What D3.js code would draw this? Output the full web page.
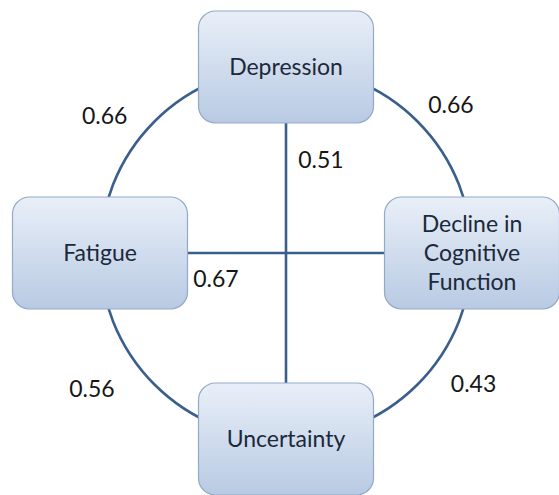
<!DOCTYPE html>
<html>
<head>
<meta charset="utf-8">
<script src="https://cdn.jsdelivr.net/npm/d3@7"></script>
<style>
  body { margin: 0; background: #fff; }
  svg { display: block; }
</style>
</head>
<body>
<div id="chart"></div>
<script>
// nodes placed round the circle, by angle in degrees (0 = right, 90 = down)
const nodeNames = ['Depression', 'Decline in Cognitive Function', 'Uncertainty', 'Fatigue'];
const nodeAngles = [-90, 0, 90, 180];
const nodeLines = [['Depression'], ['Decline in', 'Cognitive', 'Function'], ['Uncertainty'], ['Fatigue']];

// correlations between the nodes
const edgeSource = ['Fatigue', 'Depression', 'Fatigue', 'Decline in Cognitive Function', 'Depression', 'Fatigue'];
const edgeTarget = ['Depression', 'Decline in Cognitive Function', 'Uncertainty', 'Uncertainty', 'Uncertainty', 'Decline in Cognitive Function'];
const edgeValues = [0.66, 0.66, 0.56, 0.43, 0.51, 0.67];

const width = 559, height = 495;
const cx = 286, cy = 253, r = 186;
const boxW = 175, boxH = 112;

// where each label sits (polar around the centre for arcs, offsets for chords)
const labelLayout = {
  'Fatigue|Depression': { a: 217, d: 227 },
  'Depression|Decline in Cognitive Function': { a: 318, d: 222 },
  'Fatigue|Uncertainty': { a: 145, d: 237 },
  'Decline in Cognitive Function|Uncertainty': { a: 35, d: 229 },
  'Depression|Uncertainty': { dx: 35, dy: -93 },
  'Fatigue|Decline in Cognitive Function': { dx: -70, dy: 26 }
};

const rad = d3.scaleLinear().domain([0, 360]).range([0, 2 * Math.PI]);

const nodes = nodeNames.map((name, i) => ({
  name,
  lines: nodeLines[i],
  angle: nodeAngles[i],
  x: cx + r * Math.cos(rad(nodeAngles[i])),
  y: cy + r * Math.sin(rad(nodeAngles[i]))
}));
const byName = new Map(nodes.map(n => [n.name, n]));

const edges = edgeValues.map((v, i) => ({
  source: byName.get(edgeSource[i]),
  target: byName.get(edgeTarget[i]),
  value: v,
  key: edgeSource[i] + '|' + edgeTarget[i]
}));

const svg = d3.select('#chart')
  .append('svg')
  .attr('width', width)
  .attr('height', height);

const defs = svg.append('defs');
const grad = defs.append('linearGradient')
  .attr('id', 'boxFill')
  .attr('x1', 0).attr('y1', 0).attr('x2', 0).attr('y2', 1);
grad.append('stop').attr('offset', '0%').attr('stop-color', '#e9eff8');
grad.append('stop').attr('offset', '100%').attr('stop-color', '#b8cae3');

// adjacent nodes -> arc along the circle, opposite nodes -> straight chord
function edgePath(e) {
  let a0 = e.source.angle, a1 = e.target.angle;
  const diff = ((a1 - a0) % 360 + 360) % 360;
  const p = d3.path();
  if (diff === 180) {
    p.moveTo(e.source.x, e.source.y);
    p.lineTo(e.target.x, e.target.y);
    return p.toString();
  }
  let start = a0, end = a1;
  if (diff > 180) { start = a1; end = a0; }
  if (end < start) end += 360;
  p.moveTo(cx + r * Math.cos(rad(start)), cy + r * Math.sin(rad(start)));
  p.arc(cx, cy, r, rad(start), rad(end), false);
  return p.toString();
}

svg.append('g')
  .attr('class', 'links')
  .selectAll('path')
  .data(edges)
  .enter().append('path')
  .attr('d', edgePath)
  .attr('fill', 'none')
  .attr('stroke', '#3b5f8c')
  .attr('stroke-width', 2.6);

svg.append('g')
  .attr('class', 'values')
  .selectAll('text')
  .data(edges)
  .enter().append('text')
  .attr('x', d => {
    const l = labelLayout[d.key];
    if (l.a !== undefined) return cx + l.d * Math.cos(rad(l.a));
    return (d.source.x + d.target.x) / 2 + l.dx;
  })
  .attr('y', d => {
    const l = labelLayout[d.key];
    if (l.a !== undefined) return cy + l.d * Math.sin(rad(l.a));
    return (d.source.y + d.target.y) / 2 + l.dy;
  })
  .attr('dy', '0.35em')
  .attr('text-anchor', 'middle')
  .attr('font-family', 'Lato, "Open Sans", sans-serif')
  .attr('font-size', 23)
  .attr('fill', '#161616')
  .text(d => d3.format('.2f')(d.value));

const node = svg.append('g')
  .attr('class', 'nodes')
  .selectAll('g')
  .data(nodes)
  .enter().append('g')
  .attr('transform', d => `translate(${d.x},${d.y})`);

node.append('rect')
  .attr('x', -boxW / 2)
  .attr('y', -boxH / 2)
  .attr('width', boxW)
  .attr('height', boxH)
  .attr('rx', 17)
  .attr('fill', 'url(#boxFill)')
  .attr('stroke', '#93a9c9')
  .attr('stroke-width', 1.2);

node.append('text')
  .attr('text-anchor', 'middle')
  .attr('font-family', 'Lato, "Open Sans", sans-serif')
  .attr('font-size', 23)
  .attr('fill', '#1b293a')
  .selectAll('tspan')
  .data(d => d.lines.map((t, i) => ({ t, i, n: d.lines.length })))
  .enter().append('tspan')
  .attr('x', 0)
  .attr('y', d => (d.i - (d.n - 1) / 2) * 29)
  .attr('dy', '0.35em')
  .text(d => d.t);
</script>
</body>
</html>
